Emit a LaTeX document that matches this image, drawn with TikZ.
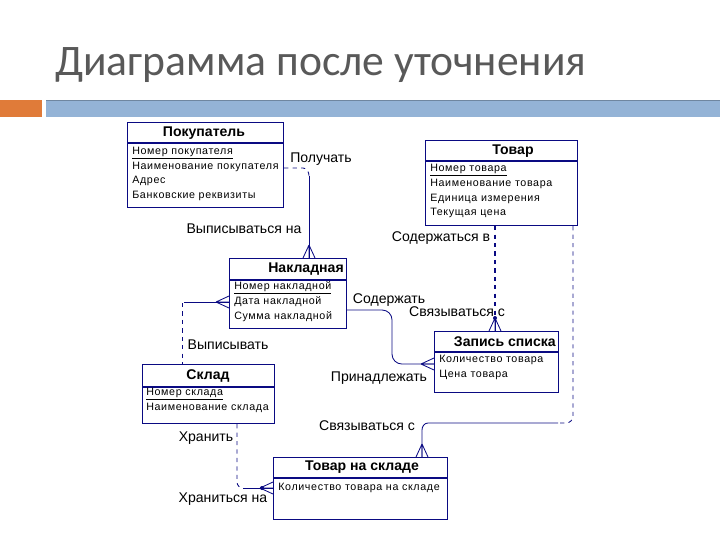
\documentclass[tikz,border=0pt]{standalone}
\usepackage{fontspec}
\setmainfont{Liberation Sans}
\newfontfamily\slidefont{Carlito}
\newfontfamily\attrfont[LetterSpace=6]{Liberation Sans}
\usetikzlibrary{positioning}

\definecolor{erdblue}{RGB}{10,10,130}
\definecolor{slidegrey}{RGB}{89,89,89}
\definecolor{barorange}{RGB}{224,123,57}
\definecolor{barblue}{RGB}{148,179,214}

\tikzset{
  entity/.style={draw=erdblue, line width=0.8pt, inner sep=0pt, anchor=north west},
  ename/.style={font=\bfseries\fontsize{10}{12}\selectfont, inner sep=0pt},
  eattr/.style={font=\attrfont\fontsize{7.6}{9}\selectfont, anchor=west, inner sep=0pt},
  rel/.style={font=\fontsize{10}{12}\selectfont, inner sep=0pt},
  link/.style={draw=erdblue, line width=0.6pt},
  opt/.style={link, dashed},
  crow/.pic={\draw[erdblue, line width=0.6pt] (-13,0) -- (0,-6) (-13,0) -- (0,0) (-13,0) -- (0,6);}
}

\begin{document}
\begin{tikzpicture}[x=0.025cm, y=-0.025cm]
\useasboundingbox (0,0) rectangle (720,540);

% slide title and bar
\node (title) [anchor=base west, inner sep=0pt, text=slidegrey,
    font=\slidefont\fontsize{31}{36}\selectfont] at (55,75) {Диаграмма после уточнения};
\fill[barorange] (0,100) rectangle (42,117);
\fill[barblue] (46,100) rectangle (720,117);
\draw[barblue!75!black, line width=0.4pt] (46,100) -- (720,100);

% entities
\node (pok) [entity, minimum width=156*0.025cm, minimum height=85*0.025cm] at (127,122) {};
\draw[erdblue, line width=1.2pt] (pok.north west) ++(0,21) -- ++(156,0);
\node (pokname) [ename] at (204,133) {Покупатель};
\node (pok1) [eattr] at (132,153) {\underline{Номер покупателя}};
\node (pok2) [eattr] at (132,167) {Наименование покупателя};
\node (pok3) [eattr] at (132,181) {Адрес};
\node (pok4) [eattr] at (132,196) {Банковские реквизиты};

\node (tov) [entity, minimum width=152*0.025cm, minimum height=85*0.025cm] at (425,140) {};
\draw[erdblue, line width=1.2pt] (tov.north west) ++(0,21) -- ++(152,0);
\node (tovname) [ename] at (513,151) {Товар};
\node (tov1) [eattr] at (430,170) {\underline{Номер товара}};
\node (tov2) [eattr] at (430,184) {Наименование товара};
\node (tov3) [eattr] at (430,199) {Единица измерения};
\node (tov4) [eattr] at (430,213) {Текущая цена};

\node (nak) [entity, minimum width=117*0.025cm, minimum height=70*0.025cm] at (229,258) {};
\draw[erdblue, line width=1.2pt] (nak.north west) ++(0,22) -- ++(117,0);
\node (nakname) [ename, anchor=east] at (344,269) {Накладная};
\node (nak1) [eattr] at (234,288) {\underline{Номер накладной}};
\node (nak2) [eattr] at (234,302) {Дата накладной};
\node (nak3) [eattr] at (234,317) {Сумма накладной};

\node (zap) [entity, minimum width=124*0.025cm, minimum height=61*0.025cm] at (434,331) {};
\draw[erdblue, line width=1.2pt] (zap.north west) ++(0,21) -- ++(124,0);
\node (zapname) [ename, anchor=east] at (556,342) {Запись списка};
\node (zap1) [eattr] at (439,360) {Количество товара};
\node (zap2) [eattr] at (439,375) {Цена товара};

\node (skl) [entity, minimum width=132*0.025cm, minimum height=59*0.025cm] at (142,364) {};
\draw[erdblue, line width=1.2pt] (skl.north west) ++(0,23) -- ++(132,0);
\node (sklname) [ename] at (208,376) {Склад};
\node (skl1) [eattr] at (146,394) {\underline{Номер склада}};
\node (skl2) [eattr] at (146,408) {Наименование склада};

\node (tns) [entity, minimum width=174*0.025cm, minimum height=62*0.025cm] at (273,457) {};
\draw[erdblue, line width=1.2pt] (tns.north west) ++(0,21) -- ++(174,0);
\node (tnsname) [ename] at (362,467) {Товар на складе};
\node (tns1) [eattr] at (278,488) {Количество товара на складе};

% relationships
\draw[opt] (pok.east |- 0,168) -- (303,168) to[out=0, in=90] (309,176);
\draw[link] (309,176) -- (nak.north -| 309,0);
\path (nak.north -| 309,0) pic[rotate=-90] {crow};

\draw[opt, line width=1.2pt] (tov.south -| 495,0) -- (495,318);
\draw[link] (495,318) -- (zap.north -| 495,0);
\fill[erdblue] (495,318) circle (2);
\path (zap.north -| 495,0) pic[rotate=-90] {crow};

\draw[opt] (tov.south -| 573,0) -- (573,416) to[out=-90, in=0] (566,423) -- (558,423);
\draw[link] (558,423) -- (428,423) to[out=180, in=90] (422,430) -- (tns.north -| 422,0);
\path (tns.north -| 422,0) pic[rotate=-90] {crow};

\draw[link, rounded corners=7] (nak.east |- 0,310) -| (392,364) -- (zap.west |- 0,364);
\path (zap.west |- 0,364) pic {crow};

\draw[link] (nak.west |- 0,302) -- (184,302);
\draw[opt] (182,303) -- (skl.north -| 182,0);
\path (nak.west |- 0,302) pic {crow};

\draw[opt] (skl.south -| 237,0) -- (237,482) to[out=-90, in=180] (243,488);
\draw[link] (243,488) -- (tns.west |- 0,488);
\fill[erdblue] (262,488) circle (2);
\path (tns.west |- 0,488) pic {crow};

% relationship names
\node (lpol) [rel] at (321,159) {Получать};
\node (lvypna) [rel] at (244,229) {Выписываться на};
\node (lsodv) [rel] at (441,238) {Содержаться в};
\node (lsod) [rel] at (389,300) {Содержать};
\node (lsvyaz1) [rel] at (457,312) {Связываться с};
\node (lvyp) [rel] at (228,345) {Выписывать};
\node (lprin) [rel] at (379,378) {Принадлежать};
\node (lsvyaz2) [rel] at (367,426) {Связываться с};
\node (lhran) [rel] at (206,438) {Хранить};
\node (lhranna) [rel] at (223,499) {Храниться на};
\end{tikzpicture}
\end{document}
